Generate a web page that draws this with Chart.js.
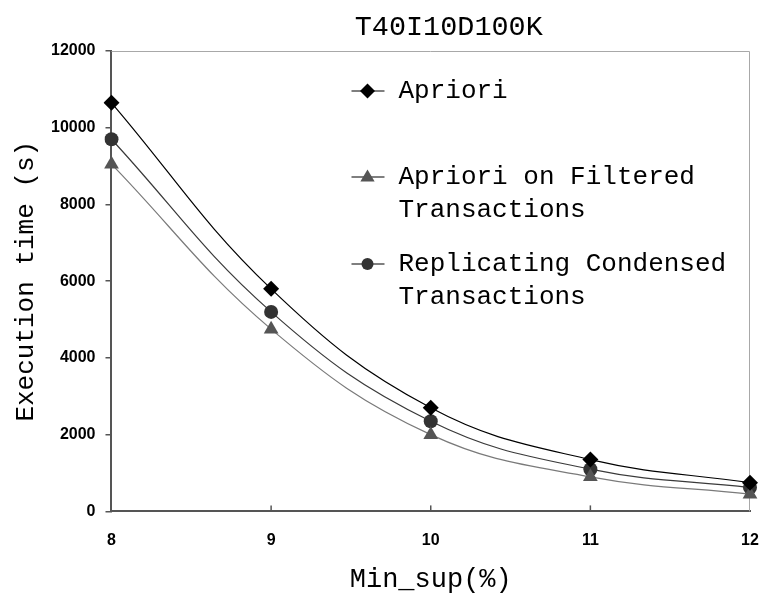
<!DOCTYPE html>
<html>
<head>
<meta charset="utf-8">
<script src="https://cdn.jsdelivr.net/npm/chart.js@4.4.1/dist/chart.umd.min.js"></script>
<style>
  html, body { margin: 0; padding: 0; background: #fff; }
  #wrap { width: 764px; height: 596px; }
</style>
</head>
<body>
<div id="wrap"><canvas id="chart"></canvas></div>
<script>
const minSup = ['8', '9', '10', '11', '12'];
const aprioriTimes = [10650, 5800, 2700, 1350, 750];
const filteredTimes = [9050, 4750, 2000, 900, 450];
const replicatingTimes = [9700, 5200, 2350, 1100, 620];
const yTicks = [0, 2000, 4000, 6000, 8000, 10000, 12000];
const legendLines = [
    ['Apriori'],
    ['Apriori on Filtered', 'Transactions'],
    ['Replicating Condensed', 'Transactions']
];

const monoFont = "'Liberation Mono', 'DejaVu Sans Mono', monospace";
const tickFont = { family: "'Liberation Sans', Arial, sans-serif", size: 16, weight: 'bold' };

// light frame round the plot and small inward ticks on the x axis
const framePlugin = {
    id: 'frame',
    beforeDatasetsDraw(chart) {
        const { ctx, chartArea: a } = chart;
        ctx.save();
        ctx.strokeStyle = '#a8a8a8';
        ctx.lineWidth = 1;
        ctx.beginPath();
        ctx.moveTo(a.left, a.top + 0.5);
        ctx.lineTo(a.right - 0.5, a.top + 0.5);
        ctx.lineTo(a.right - 0.5, a.bottom);
        ctx.stroke();
        const xs = chart.scales.x;
        ctx.strokeStyle = '#555';
        ctx.lineWidth = 1.5;
        for (let i = 1; i < minSup.length - 1; i++) {
            const px = xs.getPixelForTick(i);
            ctx.beginPath();
            ctx.moveTo(px, a.bottom);
            ctx.lineTo(px, a.bottom - 6);
            ctx.stroke();
        }
        ctx.restore();
    }
};

function drawMarker(ctx, style, x, y, r, color) {
    ctx.fillStyle = color;
    ctx.beginPath();
    if (style === 'rectRot') {
        ctx.moveTo(x, y - r);
        ctx.lineTo(x + r, y);
        ctx.lineTo(x, y + r);
        ctx.lineTo(x - r, y);
    } else if (style === 'triangle') {
        ctx.moveTo(x, y - r);
        ctx.lineTo(x + r * 0.95, y + r * 0.6);
        ctx.lineTo(x - r * 0.95, y + r * 0.6);
    } else {
        ctx.arc(x, y, r * 0.8, 0, Math.PI * 2);
    }
    ctx.closePath();
    ctx.fill();
}

// legend drawn inside the plot, with wrapped labels
const legendPlugin = {
    id: 'insideLegend',
    afterDraw(chart) {
        const { ctx, chartArea: a } = chart;
        const rowY = [a.top + 40, a.top + 126, a.top + 213];
        const x0 = a.left + 240;
        ctx.save();
        ctx.font = '26px ' + monoFont;
        ctx.textBaseline = 'middle';
        chart.data.datasets.forEach((ds, i) => {
            const y = rowY[i];
            ctx.strokeStyle = '#000';
            ctx.lineWidth = 1.2;
            ctx.beginPath();
            ctx.moveTo(x0, y);
            ctx.lineTo(x0 + 33, y);
            ctx.stroke();
            drawMarker(ctx, ds.pointStyle, x0 + 16, y, 7.5, ds.pointBackgroundColor);
            ctx.fillStyle = '#000';
            legendLines[i].forEach((t, j) => ctx.fillText(t, x0 + 47, y + j * 33));
        });
        // chart title
        ctx.font = '28.5px ' + monoFont;
        ctx.textAlign = 'center';
        ctx.fillText('T40I10D100K', (a.left + a.right) / 2 + 18, 27);
        ctx.restore();
    }
};

const ctx = document.getElementById('chart').getContext('2d');

new Chart(ctx, {
    type: 'line',
    data: {
        labels: minSup,
        datasets: [{
            label: legendLines[0].join(' '),
            data: aprioriTimes,
            borderColor: '#000',
            borderWidth: 1.2,
            pointStyle: 'rectRot',
            pointRadius: 8,
            pointBackgroundColor: '#000',
            pointBorderWidth: 0,
            tension: 0.4
        }, {
            label: legendLines[1].join(' '),
            data: filteredTimes,
            borderColor: '#7a7a7a',
            borderWidth: 1.2,
            pointStyle: 'triangle',
            pointRadius: 8.5,
            pointBackgroundColor: '#555',
            pointBorderWidth: 0,
            tension: 0.4
        }, {
            label: legendLines[2].join(' '),
            data: replicatingTimes,
            borderColor: '#3a3a3a',
            borderWidth: 1.2,
            pointStyle: 'circle',
            pointRadius: 7,
            pointBackgroundColor: '#333',
            pointBorderWidth: 0,
            tension: 0.4
        }]
    },
    options: {
        responsive: true,
        maintainAspectRatio: false,
        animation: false,
        layout: {
            padding: { top: 51, left: 2, right: 14, bottom: 0 }
        },
        plugins: {
            legend: { display: false },
            tooltip: { enabled: false }
        },
        scales: {
            x: {
                offset: false,
                border: { display: true, color: '#555', width: 2 },
                grid: { drawOnChartArea: false, drawTicks: true, tickLength: 16, color: 'rgba(0,0,0,0)' },
                ticks: { color: '#000', font: tickFont, padding: 4 },
                title: {
                    display: true,
                    text: 'Min_sup(%)',
                    color: '#000',
                    font: { family: monoFont, size: 27 },
                    padding: { top: 9, bottom: 0 }
                }
            },
            y: {
                min: 0,
                max: 12000,
                afterBuildTicks(scale) {
                    scale.ticks = yTicks.map(v => ({ value: v }));
                },
                border: { display: true, color: '#555', width: 2 },
                grid: { drawOnChartArea: false, drawTicks: true, tickLength: 6, color: '#555', lineWidth: 1.5 },
                ticks: { color: '#000', font: tickFont, padding: 10, callback: v => String(v) },
                title: {
                    display: true,
                    text: 'Execution time (s)',
                    color: '#000',
                    font: { family: monoFont, size: 26, lineHeight: 1 },
                    padding: { top: 11, bottom: 2 }
                }
            }
        }
    },
    plugins: [framePlugin, legendPlugin]
});
</script>
</body>
</html>
